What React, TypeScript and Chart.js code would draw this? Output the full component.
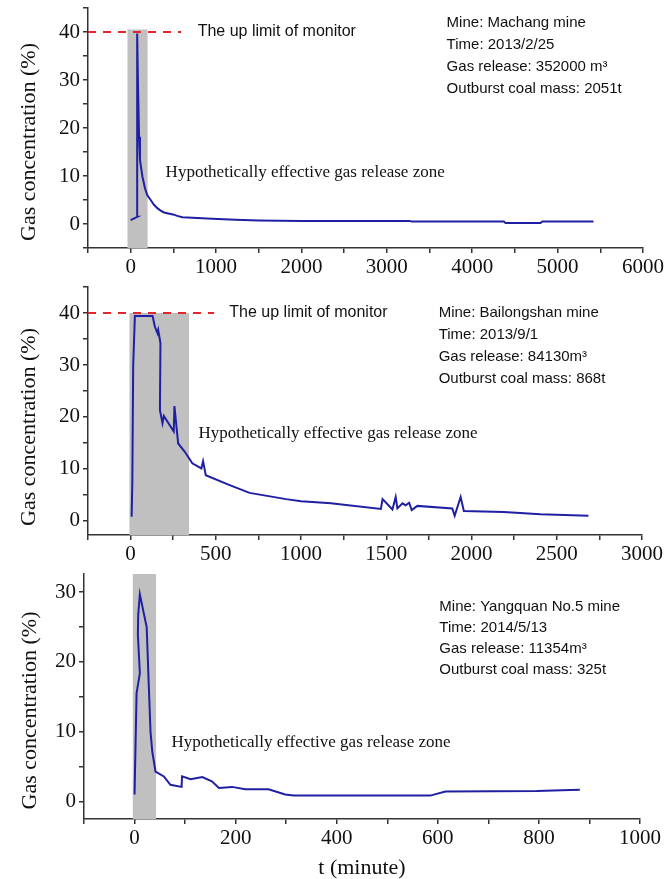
import React, { useEffect, useRef } from "react";
import { Chart, registerables } from "chart.js";
Chart.register(...registerables);

// ---------- Data: Machang mine ----------
const machangT = [0, 78, 76, 86, 98, 109, 137, 168, 195, 234, 273, 312, 351, 390, 441, 495, 546, 604, 955, 1228, 1501, 2000, 3270, 3290, 4370, 4390, 4800, 4820, 5420];
const machangC = [0.8, 1.5, 39.7, 28.6, 18.2, 13.3, 9.9, 7.4, 6.0, 5.0, 4.0, 3.3, 2.8, 2.4, 2.2, 2.0, 1.7, 1.4, 1.1, 0.9, 0.75, 0.65, 0.65, 0.5, 0.5, 0.2, 0.2, 0.5, 0.5];

// ---------- Data: Bailongshan mine ----------
const bailongshanT = [6, 10, 15, 25, 129, 142, 158, 162, 175, 172, 187, 195, 253, 257, 279, 318, 362, 415, 425, 441, 581, 698, 912, 1000, 1175, 1468, 1478, 1536, 1555, 1565, 1595, 1614, 1634, 1649, 1682, 1887, 1901, 1936, 1955, 2189, 2404, 2686];
const bailongshanC = [0.8, 7.3, 29.7, 39.4, 39.4, 37.4, 36.1, 36.7, 34.2, 21.3, 18.8, 20.2, 17.2, 22.1, 14.9, 13.3, 11.1, 10.1, 11.5, 8.8, 6.9, 5.4, 4.2, 3.8, 3.4, 2.3, 4.2, 2.2, 4.6, 2.4, 3.4, 3.0, 3.5, 2.1, 2.9, 2.4, 1.0, 4.6, 1.9, 1.7, 1.3, 1.0];

// ---------- Data: Yangquan No.5 mine ----------
const yangquanT = [0, 4, 10.5, 6.6, 7.2, 10.5, 24, 28, 31.6, 35, 41.5, 58, 71, 93, 94, 111, 134, 153, 167, 193, 219, 265, 298, 315, 585, 615, 796, 862, 881];
const yangquanC = [1.0, 15.5, 18.4, 23.9, 26.7, 29.7, 25, 17, 10, 7.2, 4.3, 3.6, 2.4, 2.1, 3.6, 3.2, 3.5, 2.9, 1.95, 2.1, 1.75, 1.75, 1.0, 0.85, 0.85, 1.45, 1.5, 1.65, 1.7];

// ---------- Info texts ----------
const machangInfo = ["Mine: Machang mine", "Time: 2013/2/25", "Gas release: 352000 m\u00b3", "Outburst coal mass: 2051t"];
const bailongshanInfo = ["Mine: Bailongshan mine", "Time: 2013/9/1", "Gas release: 84130m\u00b3", "Outburst coal mass: 868t"];
const yangquanInfo = ["Mine: Yangquan No.5 mine", "Time: 2014/5/13", "Gas release: 11354m\u00b3", "Outburst coal mass: 325t"];

const limitLabel = "The up limit of monitor";
const zoneLabel = "Hypothetically effective gas release zone";
const yTitle = "Gas concentration (%)";
const xTitle = "t (minute)";

// ---------- Ticks ----------
const machangXTicks = [-500, 0, 500, 1000, 1500, 2000, 2500, 3000, 3500, 4000, 4500, 5000, 5500, 6000];
const machangYTicks = [-5, 0, 5, 10, 15, 20, 25, 30, 35, 40, 45];
const bailongshanXTicks = [-250, 0, 250, 500, 750, 1000, 1250, 1500, 1750, 2000, 2250, 2500, 2750, 3000];
const bailongshanYTicks = [0, 5, 10, 15, 20, 25, 30, 35, 40, 45];
const yangquanXTicks = [-100, 0, 100, 200, 300, 400, 500, 600, 700, 800, 900, 1000];
const yangquanYTicks = [0, 5, 10, 15, 20, 25, 30];

// ---------- Zones / limits ----------
const monitorLimit = 40;
const machangZone = [-40, 200];
const bailongshanZone = [-8, 343];
const yangquanZone = [-4, 43];
const machangLimitSpan = [-500, 590];
const bailongshanLimitSpan = [-250, 490];

const SERIF = '"Liberation Serif", "Times New Roman", serif';
const SANS = '"Liberation Sans", Arial, sans-serif';
const LINE = "#1f1fa3";
const AXIS = "#333";

type PanelProps = {
  top: number;
  height: number;
  t: number[];
  c: number[];
  xTicks: number[];
  yTicks: number[];
  xLabelStep: number;
  yLabelStep: number;
  xMin: number;
  xMax: number;
  yMin: number;
  yMax: number;
  zone: number[];
  zoneTop: number;
  limitSpan: number[] | null;
  info: string[];
  infoAt: number[];
  infoSpacing: number;
  limitAt: number[] | null;
  zoneLabelAt: number[];
  pad: { left: number; right: number; top: number };
  yAxisWidth: number;
  xAxisHeight: number;
  yTitleX: number;
  yTitleShift: number;
  showXTitle: boolean;
};

function Panel(p: PanelProps) {
  const ref = useRef<HTMLCanvasElement | null>(null);
  useEffect(() => {
    if (!ref.current) return;
    const textPlugin = {
      id: "panelText",
      afterDraw(chart: any) {
        const { ctx, chartArea, scales } = chart;
        const xs = scales.x;
        const ys = scales.y;
        ctx.save();
        ctx.fillStyle = "#111";
        ctx.save();
        ctx.translate(p.yTitleX, (chartArea.top + chartArea.bottom) / 2 + p.yTitleShift);
        ctx.rotate(-Math.PI / 2);
        ctx.font = `22px ${SERIF}`;
        ctx.textAlign = "center";
        ctx.textBaseline = "middle";
        ctx.fillText(yTitle, 0, 0);
        ctx.restore();
        ctx.textAlign = "left";
        ctx.textBaseline = "middle";
        if (p.limitAt) {
          ctx.font = `16px ${SANS}`;
          ctx.fillText(limitLabel, xs.getPixelForValue(p.limitAt[0]), ys.getPixelForValue(p.limitAt[1]));
        }
        ctx.font = `15px ${SANS}`;
        const ix = xs.getPixelForValue(p.infoAt[0]);
        const iy = ys.getPixelForValue(p.infoAt[1]);
        p.info.forEach((line, i) => ctx.fillText(line, ix, iy + i * p.infoSpacing));
        ctx.font = `17px ${SERIF}`;
        ctx.fillText(zoneLabel, xs.getPixelForValue(p.zoneLabelAt[0]), ys.getPixelForValue(p.zoneLabelAt[1]));
        ctx.restore();
      },
    };

    const datasets: any[] = [
      {
        data: p.t.map((x, i) => ({ x, y: p.c[i] })),
        borderColor: LINE,
        borderWidth: 2,
        pointRadius: 0,
        tension: 0,
        fill: false,
      },
    ];
    if (p.limitSpan) {
      datasets.push({
        data: p.limitSpan.map((x) => ({ x, y: monitorLimit })),
        borderColor: "#e3262b",
        borderWidth: 2,
        borderDash: [8, 7],
        pointRadius: 0,
        fill: false,
      });
    }
    datasets.push({
      data: p.zone.map((x) => ({ x, y: p.zoneTop })),
      borderWidth: 0,
      borderColor: "rgba(0,0,0,0)",
      backgroundColor: "#c0c0c0",
      pointRadius: 0,
      fill: "start",
    });

    const chart = new Chart(ref.current, {
      type: "line",
      data: { datasets },
      options: {
        animation: false,
        responsive: false,
        events: [],
        layout: { padding: { left: p.pad.left, right: p.pad.right, top: p.pad.top, bottom: 0 } },
        plugins: { legend: { display: false }, tooltip: { enabled: false } },
        scales: {
          x: {
            type: "linear",
            min: p.xMin,
            max: p.xMax,
            afterBuildTicks: (s: any) => {
              s.ticks = p.xTicks.map((v) => ({ value: v }));
            },
            afterFit: (s: any) => {
              s.height = p.xAxisHeight;
              s.paddingLeft = 0;
              s.paddingRight = 0;
            },
            ticks: {
              autoSkip: false,
              maxRotation: 0,
              padding: 2,
              color: "#111",
              font: { family: SERIF, size: 21 },
              callback: (v: any) => (Number(v) >= 0 && Number(v) % p.xLabelStep === 0 ? String(v) : ""),
            },
            grid: { drawOnChartArea: false, drawTicks: true, tickLength: 5, color: AXIS, lineWidth: 1.5 },
            border: { display: true, color: AXIS, width: 1.5 },
            title: {
              display: p.showXTitle,
              text: xTitle,
              color: "#111",
              font: { family: SERIF, size: 22, lineHeight: 1 },
              padding: { top: 0, bottom: 0 },
            },
          },
          y: {
            type: "linear",
            min: p.yMin,
            max: p.yMax,
            afterBuildTicks: (s: any) => {
              s.ticks = p.yTicks.map((v) => ({ value: v }));
            },
            afterFit: (s: any) => {
              s.width = p.yAxisWidth;
              s.paddingTop = 0;
              s.paddingBottom = 0;
            },
            ticks: {
              autoSkip: false,
              padding: 3,
              color: "#111",
              font: { family: SERIF, size: 21 },
              callback: (v: any) => (Number(v) >= 0 && Number(v) % p.yLabelStep === 0 ? String(v) : ""),
            },
            grid: { drawOnChartArea: false, drawTicks: true, tickLength: 5, color: AXIS, lineWidth: 1.5 },
            border: { display: true, color: AXIS, width: 1.5 },
          },
        },
      },
      plugins: [textPlugin],
    } as any);
    return () => chart.destroy();
  }, []);
  return (
    <div style={{ position: "absolute", left: 0, top: p.top, width: 667, height: p.height }}>
      <canvas ref={ref} width={667} height={p.height} style={{ display: "block" }} />
    </div>
  );
}

export default function App() {
  return (
    <div style={{ position: "absolute", left: 0, top: 0, width: 667, height: 879, background: "#fff" }}>
      <Panel
        top={0}
        height={282}
        t={machangT}
        c={machangC}
        xTicks={machangXTicks}
        yTicks={machangYTicks}
        xLabelStep={1000}
        yLabelStep={10}
        xMin={-500}
        xMax={6000}
        yMin={-5}
        yMax={45}
        zone={machangZone}
        zoneTop={40.5}
        limitSpan={machangLimitSpan}
        info={machangInfo}
        infoAt={[3700, 41.9]}
        infoSpacing={22}
        limitAt={[784, 40]}
        zoneLabelAt={[409, 10.8]}
        pad={{ left: 0, right: 24, top: 8 }}
        yAxisWidth={88}
        xAxisHeight={34}
        yTitleX={29}
        yTitleShift={14}
        showXTitle={false}
      />
      <Panel
        top={282}
        height={288}
        t={bailongshanT}
        c={bailongshanC}
        xTicks={bailongshanXTicks}
        yTicks={bailongshanYTicks}
        xLabelStep={500}
        yLabelStep={10}
        xMin={-250}
        xMax={3000}
        yMin={-2.7}
        yMax={45}
        zone={bailongshanZone}
        zoneTop={40}
        limitSpan={bailongshanLimitSpan}
        info={bailongshanInfo}
        infoAt={[1807, 40]}
        infoSpacing={22}
        limitAt={[579, 40]}
        zoneLabelAt={[398, 16.9]}
        pad={{ left: 0, right: 25, top: 5 }}
        yAxisWidth={88}
        xAxisHeight={35}
        yTitleX={29}
        yTitleShift={16}
        showXTitle={false}
      />
      <Panel
        top={570}
        height={309}
        t={yangquanT}
        c={yangquanC}
        xTicks={yangquanXTicks}
        yTicks={yangquanYTicks}
        xLabelStep={200}
        yLabelStep={10}
        xMin={-100}
        xMax={1000}
        yMin={-2.5}
        yMax={32.6}
        zone={yangquanZone}
        zoneTop={32.6}
        limitSpan={null}
        info={yangquanInfo}
        infoAt={[603, 27.9]}
        infoSpacing={21}
        limitAt={null}
        zoneLabelAt={[73, 8.4]}
        pad={{ left: 0, right: 27, top: 4 }}
        yAxisWidth={84}
        xAxisHeight={60}
        yTitleX={30}
        yTitleShift={14}
        showXTitle={true}
      />
    </div>
  );
}
